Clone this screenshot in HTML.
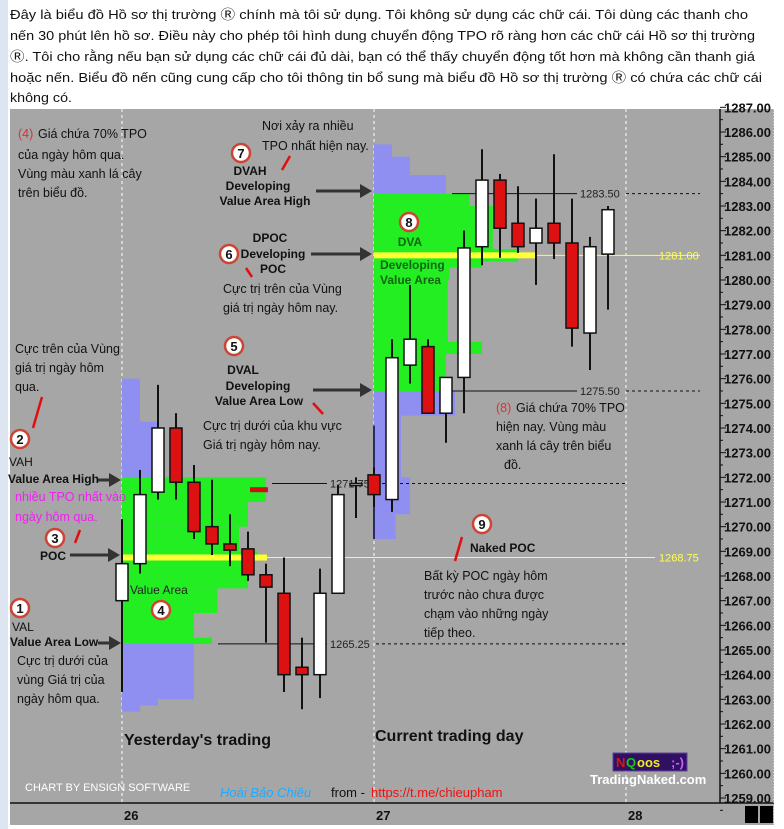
<!DOCTYPE html>
<html><head><meta charset="utf-8">
<style>
body{margin:0;width:784px;height:829px;overflow:hidden;background:#fff;font-family:"Liberation Sans",sans-serif}
svg{display:block}
.t{font-family:"Liberation Sans",sans-serif;font-size:12.5px;fill:#111}
.b{font-family:"Liberation Sans",sans-serif;font-size:12px;font-weight:bold;fill:#111}
.ax{font-family:"Liberation Sans",sans-serif;font-size:13px;font-weight:bold;fill:#111}
</style></head>
<body>
<svg id="chart" width="784" height="829" viewBox="0 0 784 829">
<rect x="0" y="0" width="784" height="829" fill="#fff"/>
<rect x="0" y="0" width="8" height="829" fill="#dde6f0"/>
<g font-family="Liberation Sans, sans-serif" font-size="13" fill="#111">
<text x="10" y="19" textLength="738" lengthAdjust="spacingAndGlyphs">Đây là biểu đồ Hồ sơ thị trường  Ⓡ  chính mà tôi sử dụng. Tôi không sử dụng các chữ cái. Tôi dùng các thanh cho</text>
<text x="10" y="40" textLength="745" lengthAdjust="spacingAndGlyphs">nến 30 phút lên hồ sơ. Điều này cho phép tôi hình dung chuyển động TPO rõ ràng hơn các chữ cái Hồ sơ thị trường</text>
<text x="10" y="61" textLength="745" lengthAdjust="spacingAndGlyphs">Ⓡ. Tôi cho rằng nếu bạn sử dụng các chữ cái đủ dài, bạn có thể thấy chuyển động tốt hơn mà không cần thanh giá</text>
<text x="10" y="82" textLength="752" lengthAdjust="spacingAndGlyphs">hoặc nến. Biểu đồ nến cũng cung cấp cho tôi thông tin bổ sung mà biểu đồ Hồ sơ thị trường Ⓡ  có chứa các chữ cái</text>
<text x="10" y="102" textLength="62" lengthAdjust="spacingAndGlyphs">không có.</text>
</g>
<rect x="10" y="109" width="764" height="716" fill="#a6a6a6"/>
<line x1="720" y1="109" x2="720" y2="803" stroke="#111" stroke-width="1.5"/>
<line x1="10" y1="803" x2="774" y2="803" stroke="#111" stroke-width="1.5"/>
<line x1="774" y1="109" x2="774" y2="825" stroke="#fff" stroke-dasharray="1,2"/>
<g id="grid"></g>
<g id="profiles"></g>
<g id="levels"></g>
<g id="candles"></g>
<g id="yaxis"></g>
<g id="xaxis"></g>
<g id="ann" font-family="Liberation Sans, sans-serif"></g>
</svg>
<script>
// ---- data ----
const yTicks=[1259,1260,1261,1262,1263,1264,1265,1266,1267,1268,1269,1270,1271,1272,1273,1274,1275,1276,1277,1278,1279,1280,1281,1282,1283,1284,1285,1286,1287];
const dateLabels=["26","27","28"];
const candleOpen =[1267.0,1268.5,1271.4,1274.0,1271.8,1270.0,1269.3,1269.1,1268.05,1267.3,1264.3,1264.0,1267.3,1271.75,1272.1,1271.1,1276.55,1277.3,1274.6,1276.05,1281.35,1284.05,1282.3,1281.5,1282.3,1281.5,1277.85,1281.05];
const candleClose=[1268.5,1271.3,1274.0,1271.8,1269.8,1269.3,1269.05,1268.05,1267.55,1264.0,1264.0,1267.3,1271.3,1271.75,1271.3,1276.85,1277.6,1274.6,1276.05,1281.3,1284.05,1282.1,1281.35,1282.1,1281.5,1278.05,1281.35,1282.85];
const candleHigh =[1270.3,1272.3,1275.75,1274.6,1272.5,1271.9,1270.5,1269.8,1268.5,1268.75,1265.5,1268.3,1271.7,1272.0,1272.4,1277.6,1279.8,1277.6,1276.0,1282.0,1285.3,1284.3,1283.8,1283.3,1285.1,1283.3,1281.75,1283.0];
const candleLow  =[1263.3,1268.1,1271.1,1271.1,1269.5,1268.85,1268.4,1267.8,1265.3,1263.3,1262.6,1263.05,1267.3,1270.35,1270.8,1270.6,1275.8,1274.6,1273.4,1274.6,1280.6,1280.9,1281.1,1279.8,1280.85,1277.3,1276.35,1278.8];
// profile segments: [top price, bottom price, width in TPO units]
const profYestTop=[1276,1274.25,1274.25,1272.25,1265.25,1263.0,1262.75];
const profYestBot=[1274.25,1272.25,1272.0,1272.0,1263.0,1262.75,1262.5];
const profYestLen=[1,2,2,2,4,2,1];
const vaYestTop=[1272,1271,1270,1269,1268.75,1267.5,1266.5,1265.5];
const vaYestBot=[1271,1270,1269,1268.75,1267.5,1266.5,1265.5,1265.25];
const vaYestLen=[8,7,6.5,7.5,7,5.3,4,5];
const profTodayTop=[1285.5,1285,1284.25,1275.5,1274.5,1272,1270.5];
const profTodayBot=[1285,1284.25,1283.5,1274.5,1272,1270.5,1269.5];
const profTodayLen=[1,2,4,4.5,1.5,2,1.2];
const vaTodayTop=[1283.5,1283,1281.25,1280.75,1280.5,1280,1277.5,1277,1276.25];
const vaTodayBot=[1283,1281.25,1280.75,1280.5,1280,1277.5,1277,1276.25,1275.5];
const vaTodayLen=[5.3,6.6,8.0,6.0,4.2,4.1,6.0,4.0,4.0];
const levelPrices=[1283.5,1275.5,1271.75,1265.25];
const levelLabels=["1283.50","1275.50","1271.75","1265.25"];
const pocPrices=[1281.0,1268.75];
const pocLabels=["1281.00","1268.75"];

// ---- scales ----
const Y=p=>132+(1286-p)*24.667;
const dayX=[122,374,626];
const CX=i=>122+i*18;
const TPO=18;
const NS="http://www.w3.org/2000/svg";
function mk(parent,tag,attrs){const e=document.createElementNS(NS,tag);for(const k in attrs)e.setAttribute(k,attrs[k]);document.getElementById(parent).appendChild(e);return e;}

dayX.forEach((x,i)=>{
 const l=mk('grid','line',{x1:x,y1:109,x2:x,y2:803,stroke:'#fff','stroke-dasharray':'3,3'});
 
 
 const t=mk('xaxis','text',{x:x+2,y:820,'class':'ax'});t.textContent=dateLabels[i];
 
 
});
yTicks.forEach(p=>{
 const y=Y(p);
 if(y<100||y>810)return;
 mk('yaxis','line',{x1:720,y1:y,x2:726,y2:y,stroke:'#111'});
 mk('yaxis','line',{x1:720,y1:y+12.3,x2:723,y2:y+12.3,stroke:'#111'});
 const t=mk('yaxis','text',{x:771,y:y+5,'class':'ax','text-anchor':'end'});t.textContent=p.toFixed(2);
 
 
});
mk('yaxis','rect',{x:745,y:806,width:13,height:17,fill:'#000'});
mk('yaxis','rect',{x:760,y:806,width:13,height:17,fill:'#000'});

function prof(x0,tops,bots,lens,col,name){
 tops.forEach((t,i)=>{
  const r=mk('profiles','rect',{x:x0,y:Y(t),width:lens[i]*TPO,height:Y(bots[i])-Y(t),fill:col});
  
  
 });
}
prof(122,profYestTop,profYestBot,profYestLen,'#8f8ff2','profile-outside-va');
prof(122,vaYestTop,vaYestBot,vaYestLen,'#22ee22','profile-value-area');
prof(374,profTodayTop,profTodayBot,profTodayLen,'#8f8ff2','profile-outside-va');
prof(374,vaTodayTop,vaTodayBot,vaTodayLen,'#22ee22','profile-value-area');
mk('profiles','rect',{x:250,y:Y(1271.6),width:18,height:5,fill:'#cc1111'});
mk('profiles','line',{x1:122,y1:Y(1270.3),x2:122,y2:Y(1263.3),stroke:'#222','stroke-width':2});
mk('profiles','line',{x1:374,y1:Y(1274.1),x2:374,y2:Y(1269.5),stroke:'#2a2a6a','stroke-width':2});

pocPrices.forEach((p,i)=>{
 const y=Y(p);
 const start=i==0?374:122, thickEnd=i==0?535:267;
 mk('levels','rect',{x:start,y:y-3,width:thickEnd-start,height:6,fill:'#ffff33'});
 const l=mk('levels','line',{x1:start,y1:y,x2:i==0?700:655,y2:y,stroke:'#ffff44','stroke-width':1});
 
 
 const t=mk('levels','text',{x:659,y:y+4,fill:'#ffff55','font-size':'11','font-family':'Liberation Sans, sans-serif'});t.textContent=pocLabels[i];
});
levelPrices.forEach((p,i)=>{
 const y=Y(p);
 const s=[452,452,272,218][i], lx=[580,580,330,330][i], de=[700,700,626,626][i];
 const a=mk('levels','line',{x1:s,y1:y,x2:lx-3,y2:y,stroke:'#111'});
 
 
 mk('levels','line',{x1:lx+46,y1:y,x2:de,y2:y,stroke:'#111','stroke-dasharray':'3,3'});
 const t=mk('levels','text',{x:lx,y:y+4,fill:'#222','font-size':'11','font-family':'Liberation Sans, sans-serif'});t.textContent=levelLabels[i];
});

candleOpen.forEach((o,i)=>{
 const c=candleClose[i],x=CX(i);
 mk('candles','line',{x1:x,y1:Y(candleHigh[i]),x2:x,y2:Y(candleLow[i]),stroke:'#111','stroke-width':2});
 const top=Math.max(o,c),bot=Math.min(o,c);
 const h=Math.max(Y(bot)-Y(top),2);
 const r=mk('candles','rect',{x:x-6,y:Y(top),width:12,height:h,fill:c>=o?'#fff':'#dd1111',stroke:'#111','stroke-width':1.5});
 
 
});

function txt(x,y,s,opt){const t=mk('ann','text',Object.assign({x:x,y:y,'font-size':'12.5',fill:'#111'},opt||{}));t.textContent=s;return t;}
function ball(x,y,n){const g=mk('ann','circle',{cx:x,cy:y,r:9,fill:'#fff',stroke:'#c43',"stroke-width":2.5});
 
 
 txt(x,y+5,n,{'text-anchor':'middle','font-weight':'bold','font-size':'13'});}
function arrow(x1,x2,y){mk('ann','line',{x1:x1,y1:y,x2:x2-10,y2:y,stroke:'#333','stroke-width':3});mk('ann','polygon',{points:`${x2},${y} ${x2-12},${y-7} ${x2-12},${y+7}`,fill:'#333'});}
function slash(x1,y1,x2,y2){mk('ann','line',{x1:x1,y1:y1,x2:x2,y2:y2,stroke:'#e01010','stroke-width':2.5});}
const B={'font-weight':'bold','font-size':'12','text-anchor':'middle'};

txt(18,138,'(4)',{fill:'#e03030'});txt(38,138,'Giá chứa 70% TPO');
txt(18,159,'của ngày hôm qua.');txt(18,178,'Vùng màu xanh lá cây');txt(18,197,'trên biểu đồ.');
txt(262,130,'Nơi xảy ra nhiều');txt(262,150,'TPO nhất hiện nay.');
ball(241,153,'7');slash(290,156,282,170);
txt(250,175,'DVAH',B);txt(258,190,'Developing',B);txt(265,205,'Value Area High',B);arrow(316,372,191);
txt(270,242,'DPOC',B);ball(229,254,'6');txt(273,258,'Developing',B);txt(273,273,'POC',B);arrow(311,372,254);
slash(246,268,252,277);
txt(223,293,'Cực trị trên của Vùng');txt(223,312,'giá trị ngày hôm nay.');
ball(234,346,'5');txt(243,374,'DVAL',B);txt(258,390,'Developing',B);txt(259,405,'Value Area Low',B);arrow(313,372,390);
slash(313,403,323,414);
txt(203,430,'Cực trị dưới của khu vực');txt(203,449,'Giá trị ngày hôm nay.');
txt(15,353,'Cực trên của Vùng');txt(15,372,'giá trị ngày hôm');txt(15,391,'qua.');slash(42,397,33,428);
ball(20,439,'2');txt(9,466,'VAH',{'font-size':'12'});txt(8,483,'Value Area High',{'font-weight':'bold','font-size':'12'});arrow(98,121,480);
txt(15,501,'nhiều TPO nhất vào',{fill:'#ee22ee'});txt(15,521,'ngày hôm qua.',{fill:'#ee22ee'});
ball(55,538,'3');slash(80,530,75,543);txt(40,560,'POC',{'font-weight':'bold','font-size':'12'});arrow(70,120,555);
txt(130,594,'Value Area',{'font-size':'12','fill':'#222'});ball(161,610,'4');
ball(20,608,'1');txt(12,631,'VAL',{'font-size':'12'});txt(10,646,'Value Area Low',{'font-weight':'bold','font-size':'12'});arrow(98,121,643);
txt(17,665,'Cực trị dưới của');txt(17,684,'vùng Giá trị của');txt(17,703,'ngày hôm qua.');
txt(124,745,"Yesterday's trading",{'font-weight':'bold','font-size':'16'});
txt(375,741,'Current trading day',{'font-weight':'bold','font-size':'16'});
ball(409,222,'8');txt(410,246,'DVA',{'font-weight':'bold','font-size':'12','fill':'#116611','text-anchor':'middle'});
txt(380,269,'Developing',{'font-weight':'bold','font-size':'12','fill':'#116611'});txt(380,284,'Value Area',{'font-weight':'bold','font-size':'12','fill':'#116611'});
txt(496,412,'(8)',{fill:'#e03030'});txt(516,412,'Giá chứa 70% TPO');txt(496,431,'hiện nay. Vùng màu');txt(496,450,'xanh lá cây trên biểu');txt(504,469,'đồ.');
ball(482,524,'9');txt(470,552,'Naked POC',{'font-weight':'bold','font-size':'12'});slash(462,537,455,561);
txt(424,580,'Bất kỳ POC ngày hôm');txt(424,599,'trước nào chưa được');txt(424,618,'chạm vào những ngày');txt(424,637,'tiếp theo.');
txt(25,791,'CHART BY ENSIGN SOFTWARE',{'font-size':'11','fill':'#fff'});
txt(220,797,'Hoài Bảo Chiêu',{'font-size':'13','fill':'#22aaff','font-style':'italic'});
txt(331,797,'from -',{'font-size':'13','fill':'#111'});
txt(371,797,'https://t.me/chieupham',{'font-size':'13','fill':'#ee1111'});
mk('ann','rect',{x:613,y:753,width:74,height:18,fill:'#301060',stroke:'#6040a0'});
txt(616,767,'N',{'font-weight':'bold','font-size':'13',fill:'#e01010'});
txt(626,767,'Q',{'font-weight':'bold','font-size':'13',fill:'#10cc10'});
txt(637,767,'oos',{'font-weight':'bold','font-size':'13',fill:'#eeee20'});
txt(671,767,';-)',{'font-weight':'bold','font-size':'13',fill:'#cc60ff'});
txt(590,784,'TradingNaked.com',{'font-weight':'bold','font-size':'13',fill:'#fff'});
</script>
</body></html>
